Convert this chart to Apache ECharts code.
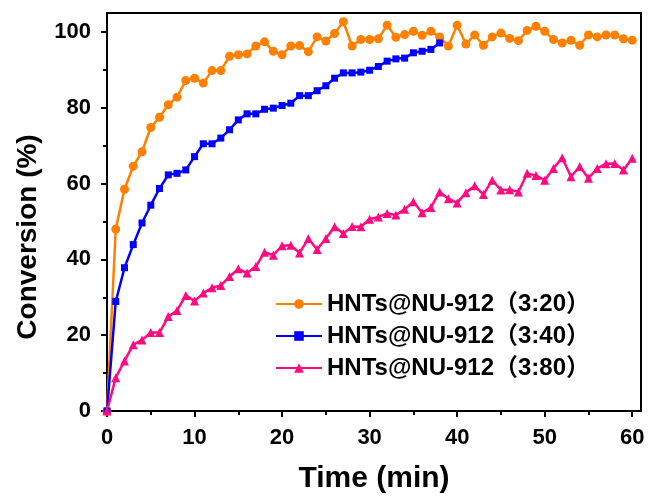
<!DOCTYPE html>
<html>
<head>
<meta charset="utf-8">
<script src="https://cdn.jsdelivr.net/npm/echarts@6/dist/echarts.min.js"></script>
<style>html,body{margin:0;padding:0;background:#fff;}#c{width:650px;height:497px;}</style>
</head>
<body>
<div id="c"></div>
<script>
var seriesNames = ['HNTs@NU-912（3:20）', 'HNTs@NU-912（3:40）', 'HNTs@NU-912（3:80）'];
var xTicks = [0, 10, 20, 30, 40, 50, 60];
var yTicks = [0, 20, 40, 60, 80, 100];
var timeA = [0,1,2,3,4,5,6,7,8,9,10,11,12,13,14,15,16,17,18,19,20,21,22,23,24,25,26,27,28,29,30,31,32,33,34,35,36,37,38,39,40,41,42,43,44,45,46,47,48,49,50,51,52,53,54,55,56,57,58,59,60];
var conv320 = [0,48,58.5,64.6,68.4,74.8,77.5,80.8,82.8,87.2,87.8,86.5,89.8,89.8,93.6,94.0,94.2,96.3,97.4,94.9,94.0,96.3,96.4,94.8,98.7,97.6,99.6,102.7,96.3,98.0,98.0,98.2,101.8,98.6,99.3,100.2,99.1,100.2,98.7,96.3,101.8,96.8,99.2,96.5,98.7,99.7,98.3,97.7,100.4,101.5,100.2,98.0,97.1,97.8,96.5,99.2,98.7,99.2,99.2,98.2,97.8];
var timeB = [0,1,2,3,4,5,6,7,8,9,10,11,12,13,14,15,16,17,18,19,20,21,22,23,24,25,26,27,28,29,30,31,32,33,34,35,36,37,38];
var conv340 = [0,28.9,37.8,43.9,49.6,54.3,58.7,62.3,62.7,63.6,67.1,70.5,70.5,72.0,74.2,76.8,78.4,78.4,79.6,79.9,80.6,81.2,83.2,83.2,84.5,85.8,87.8,89.2,89.2,89.4,89.9,90.9,92.3,92.9,93.1,94.5,94.9,95.4,97.1];
var conv380 = [0,8.8,13.2,17.5,18.7,20.7,20.7,24.9,26.5,30.5,29.0,31.1,32.5,33.1,35.5,37.5,36.4,38.1,41.9,41.1,43.6,43.7,41.7,45.5,42.6,45.5,48.6,46.8,48.7,48.6,50.6,51.2,52.1,51.7,53.2,55.2,52.3,53.7,57.8,56.0,54.9,57.6,59.4,57.1,60.9,58.3,58.4,57.8,62.7,62.1,60.9,64.0,66.8,61.8,64.5,61.4,64.0,65.2,65.3,63.6,66.7];

function pairs(t, v) { return t.map(function (x, i) { return [x, v[i]]; }); }

var FONT = 'Arial, "Liberation Sans", "Noto Sans CJK SC", sans-serif';
var chart = echarts.init(document.getElementById('c'), null, {renderer: 'canvas'});

function mkSeries(name, data, color, symbol, size) {
  return {
    name: name, type: 'line', data: data,
    symbol: symbol, symbolSize: size, showSymbol: true,
    lineStyle: {color: color, width: 2.5},
    itemStyle: {color: color},
    animation: false
  };
}

chart.setOption({
  animation: false,
  backgroundColor: '#fff',
  grid: {left: 107, right: 9, top: 13, bottom: 86, show: true, borderColor: '#000', borderWidth: 2,
         containLabel: false, outerBoundsMode: 'none'},
  legend: {
    orient: 'vertical', left: 270, top: 287,
    itemWidth: 46, itemHeight: 12, itemGap: 8,
    textStyle: {fontFamily: FONT, fontWeight: 'bold', fontSize: 24, color: '#000', lineHeight: 24},
    data: seriesNames
  },
  xAxis: {
    type: 'value', min: 0, max: 61, interval: 10,
    name: 'Time (min)', nameLocation: 'middle', nameGap: 53,
    nameTextStyle: {fontFamily: FONT, fontWeight: 'bold', fontSize: 30, color: '#000'},
    axisLine: {lineStyle: {color: '#000', width: 2}},
    axisTick: {show: true, inside: false, length: 6, lineStyle: {color: '#000', width: 2}, customValues: xTicks},
    minorTick: {show: true, splitNumber: 2, length: 4, lineStyle: {color: '#000', width: 2}},
    axisLabel: {fontFamily: FONT, fontWeight: 'bold', fontSize: 22, color: '#000', margin: 16, customValues: xTicks},
    splitLine: {show: false}
  },
  yAxis: {
    type: 'value', min: 0, max: 105, interval: 20,
    name: 'Conversion (%)', nameLocation: 'middle', nameGap: 65, nameRotate: 90,
    nameTextStyle: {fontFamily: FONT, fontWeight: 'bold', fontSize: 28, color: '#000', padding: [0, 50, 0, 0]},
    axisLine: {lineStyle: {color: '#000', width: 2}},
    axisTick: {show: true, inside: false, length: 6, lineStyle: {color: '#000', width: 2}, customValues: yTicks},
    minorTick: {show: true, splitNumber: 2, length: 4, lineStyle: {color: '#000', width: 2}},
    axisLabel: {fontFamily: FONT, fontWeight: 'bold', fontSize: 22, color: '#000', margin: 16, customValues: yTicks},
    splitLine: {show: false}
  },
  series: [
    mkSeries(seriesNames[0], pairs(timeA, conv320), '#FF8000', 'circle', 9),
    mkSeries(seriesNames[1], pairs(timeB, conv340), '#0000FF', 'rect', 7),
    mkSeries(seriesNames[2], pairs(timeA, conv380), '#FF0A80', 'triangle', 9)
  ]
});
</script>
</body>
</html>
